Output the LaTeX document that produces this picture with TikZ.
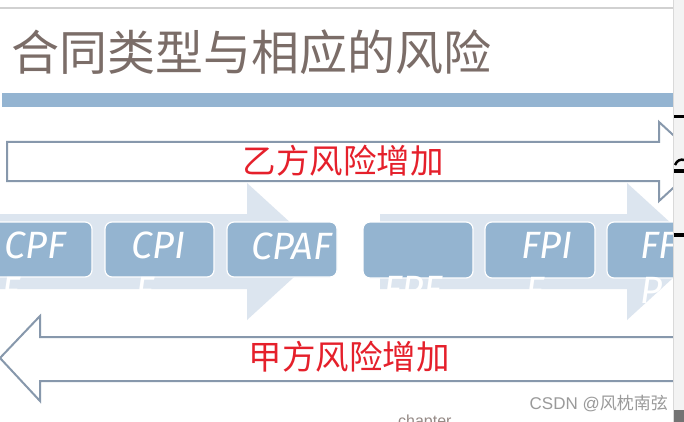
\documentclass[tikz,border=0pt]{standalone}
\usepackage{fontspec}
\newfontfamily\cjk{Noto Sans CJK SC}
\newfontfamily\boxfont{Fira Sans}
\newfontfamily\wmfont{Liberation Sans}
\definecolor{titlecol}{HTML}{7B6D68}
\definecolor{barblue}{HTML}{94B4D1}
\definecolor{boxblue}{HTML}{94B4D0}
\definecolor{lightarrow}{HTML}{DCE5EF}
\definecolor{outlinecol}{HTML}{8798AC}
\definecolor{riskred}{HTML}{E5202B}
\definecolor{wmgray}{HTML}{9A9A9A}
\definecolor{stripgray}{HTML}{F3F3F3}
\tikzset{
  bigarrow/.style={draw=outlinecol, line width=2pt, fill=white, line join=miter},
  procarrow/.style={fill=lightarrow, draw=none},
  stagebox/.style={fill=boxblue, draw=white, line width=1.2pt, rounded corners=7pt},
  stagetext/.style={text=white, font=\boxfont\itshape\fontsize{38}{42}\selectfont, inner sep=0pt, anchor=base west},
  risktext/.style={text=riskred, font=\cjk\fontsize{33.5}{38}\selectfont, inner sep=0pt},
}
\begin{document}
\begin{tikzpicture}[x=1pt,y=-1pt]
\useasboundingbox (0,0) rectangle (684,422);
\clip (0,0) rectangle (684,422);
\fill[white] (0,0) rectangle (684,422);

% top thin line
\draw[draw=black!18, line width=1.5pt] (0,8) -- (673,8);

% title
\node[anchor=west, inner sep=0pt, text=titlecol, font=\cjk\fontsize{48}{52}\selectfont] (title) at (11,52) {合同类型与相应的风险};

% blue bar
\fill[barblue] (2,93) rectangle (673,107);

% top outline arrow (right)
\draw[bigarrow] (7,142) -- (659,142) -- (659,122) -- (702,161.5) -- (659,201) -- (659,181) -- (7,181) -- cycle;
\node[risktext] (yi) at (343,161) {乙方风险增加};

% light process arrows
\fill[procarrow] (-5,214) -- (247,214) -- (247,183) -- (322,251.5) -- (247,320) -- (247,289) -- (-5,289) -- cycle;
\fill[procarrow] (380,214) -- (627,214) -- (627,183) -- (702,251.5) -- (627,320) -- (627,289) -- (380,289) -- cycle;

% stage boxes
\path[stagebox] (-18,222) rectangle (92,277);
\path[stagebox] (105,222) rectangle (214,277);
\path[stagebox] (227,222) rectangle (337,277);
\path[stagebox] (363,222) rectangle (473,278);
\path[stagebox] (485,222) rectangle (595,278);
\path[stagebox] (607,222) rectangle (717,278);

\node[stagetext] (cpff1) at (4,258) {CPF};
\node[stagetext] (cpff2) at (1,303) {F};
\node[stagetext] (cpif1) at (131,258) {CPI};
\node[stagetext] (cpif2) at (135,303) {F};
\node[stagetext] (cpaf) at (251,259) {CPAF};
\node[stagetext] (fpf) at (383,302) {FPF};
\node[stagetext] (fpif1) at (521,258) {FPI};
\node[stagetext] (fpif2) at (525,303) {F};
\node[stagetext] (ffp1) at (640,258) {FF};
\node[stagetext] (ffp2) at (640,303) {P};

% bottom outline arrow (left)
\draw[bigarrow] (720,337) -- (40,337) -- (40,316) -- (0,358) -- (40,401) -- (40,381) -- (720,381);
\node[risktext] (jia) at (349,357) {甲方风险增加};

% cropped word at bottom
\node[anchor=north west, inner sep=0pt, text=titlecol!80, font=\wmfont\fontsize{16}{18}\selectfont] (chap) at (398,415) {chapter};

% watermark
\node[anchor=east, inner sep=0pt, text=wmgray, font=\fontsize{17}{20}\selectfont] (wm) at (668,404) {\wmfont CSDN @\cjk 风枕南弦};

% right strip
\fill[stripgray] (673,0) rectangle (684,422);
\draw[black!15, line width=0.8pt] (673,0) -- (673,422);
\fill[black] (674,115) rectangle (684,118.5);
\draw[black, line width=2.5pt] (675,165) .. controls (677,160) and (681,159) .. (684,160);
\fill[black] (674,169) rectangle (684,173);
\fill[black] (674,233) rectangle (684,237);
\fill[black!55] (674,410) rectangle (684,422);
\end{tikzpicture}
\end{document}
